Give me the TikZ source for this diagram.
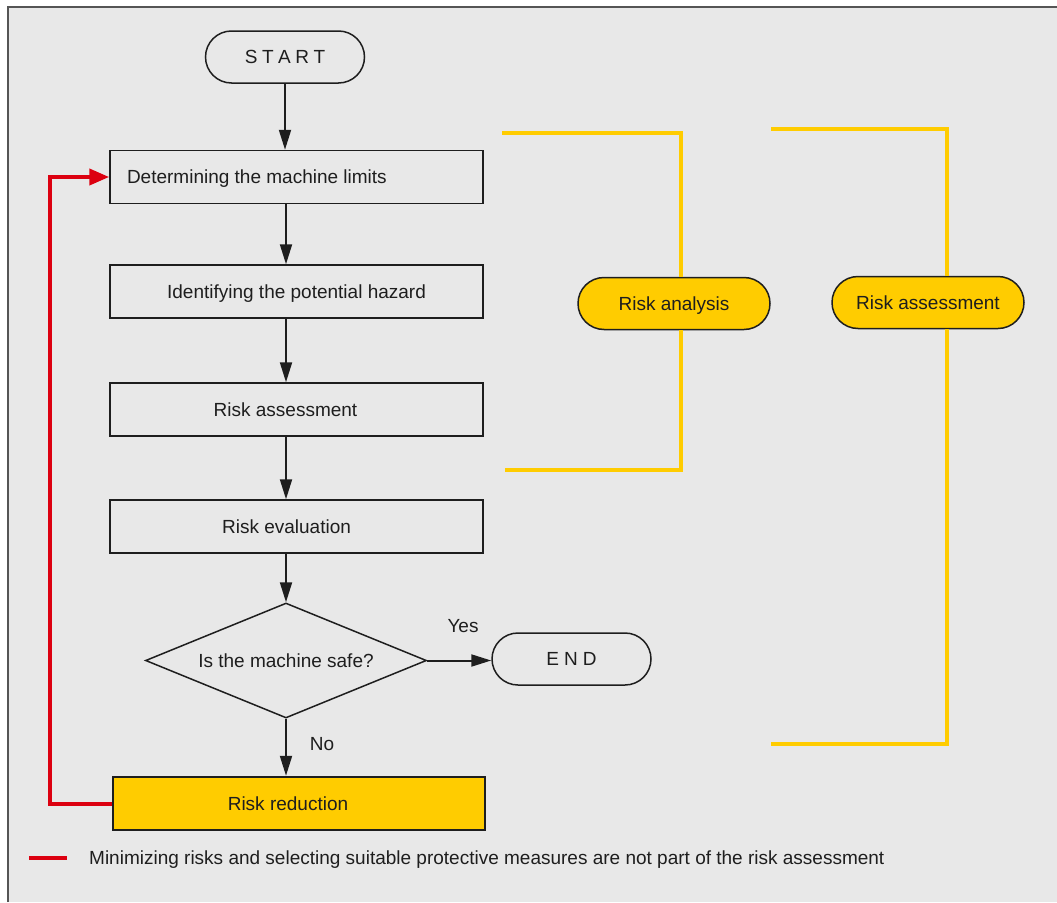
\documentclass[tikz,border=0pt]{standalone}
\usepackage{fontspec}
\setmainfont{Liberation Sans}
\usetikzlibrary{arrows.meta,shapes.geometric}
\definecolor{bg}{HTML}{E8E8E8}
\definecolor{frame}{HTML}{555555}
\definecolor{ink}{HTML}{1E1E1E}
\definecolor{sy}{HTML}{FFCC00}
\definecolor{sred}{HTML}{DC0010}
\tikzset{
  capc/.style={text height=13.6pt, text depth=0pt},
  stepbox/.style={draw=ink, line width=1.5pt, rectangle, minimum width=373pt, minimum height=53pt, inner sep=0pt, text=ink, capc},
  termbox/.style={draw=ink, line width=1.5pt, rectangle, rounded corners=26pt, minimum width=159pt, minimum height=52pt, inner sep=0pt, text=ink, capc},
  ovalbox/.style={draw=ink, line width=1.5pt, fill=sy, rectangle, rounded corners=26pt, minimum width=192pt, minimum height=52pt, inner sep=0pt, text=ink, capc},
  decbox/.style={draw=ink, line width=1.5pt, diamond, aspect=2.44, minimum width=281pt, minimum height=115pt, inner sep=0pt, text=ink, capc},
  flow/.style={draw=ink, line width=2pt, -{Triangle[length=20pt,width=12pt]}},
  redflow/.style={draw=sred, line width=4pt, -{Triangle[length=20pt,width=16pt]}},
  bracket/.style={draw=sy, line width=4pt},
  lbl/.style={text=ink, inner sep=0pt, capc}
}
\newcommand{\lsp}{\kern4.5pt}
\begin{document}
\begin{tikzpicture}[x=1pt,y=-1pt, font=\fontsize{19pt}{22pt}\selectfont]
\useasboundingbox (0,0) rectangle (1057,902);
\fill[white] (0,0) rectangle (1057,902);
\fill[bg] (8,7) rectangle (1057,902);
\draw[frame, line width=2pt] (8,902) -- (8,7) -- (1057,7);

% nodes
\node[termbox] (start) at (285,57) {S\lsp T\lsp A\lsp R\lsp T};
\node[stepbox] (b1) at (296.5,177) {\makebox[373pt][l]{\kern17pt Determining the machine limits}};
\node[stepbox] (b2) at (296.5,291.5) {Identifying the potential hazard};
\node[stepbox] (b3) at (296.5,409.5) {\makebox[351pt]{Risk assessment}\kern22pt};
\node[stepbox] (b4) at (296.5,526.5) {\makebox[353pt]{Risk evaluation}\kern20pt};
\node[decbox] (dec) at (286,660.5) {Is the machine safe?};
\node[termbox] (end) at (571.5,659) {E\kern5pt N\kern5pt D};
\node[stepbox, fill=sy, line width=2.5pt, minimum width=372pt] (red) at (299,803.5) {\makebox[350pt]{Risk reduction}\kern22pt};
\node[ovalbox] (ra) at (674,303.5) {Risk analysis};
\node[ovalbox] (rs) at (928,302.5) {Risk assessment};
\node[lbl] (yes) at (463,626) {Yes};
\node[lbl] (no) at (322,744) {No};
\node[lbl, anchor=west] (legend) at (89,858) {Minimizing risks and selecting suitable protective measures are not part of the risk assessment};

% coordinates
\coordinate (x1) at (286,0);
\coordinate (redc) at (50,0);
\coordinate (a1) at (502,133);
\coordinate (a2) at (505,470);
\coordinate (ax) at (681,0);
\coordinate (s1) at (771,129);
\coordinate (s2) at (771,744);
\coordinate (sx) at (947,0);
\coordinate (l1) at (29,858);
\coordinate (l2) at (67,858);

% flow arrows
\draw[flow] (start.south) -- (start.south |- b1.north);
\draw[flow] (b1.south -| x1) -- (b2.north -| x1);
\draw[flow] (b2.south -| x1) -- (b3.north -| x1);
\draw[flow] (b3.south -| x1) -- (b4.north -| x1);
\draw[flow] (b4.south -| x1) -- (dec.north);
\draw[flow] (dec.south) -- (dec.south |- red.north);
\draw[flow] (dec.east) -- (dec.east -| end.west);

% red feedback
\draw[redflow] (red.west) -| (redc |- b1.west) -- (b1.west);
\draw[sred, line width=4pt] (l1) -- (l2);

% yellow brackets
\draw[bracket] (a1) -| (ax |- ra.north);
\draw[bracket] (ax |- ra.south) |- (a2);
\draw[bracket] (s1) -| (sx |- rs.north);
\draw[bracket] (sx |- rs.south) |- (s2);
\end{tikzpicture}
\end{document}
